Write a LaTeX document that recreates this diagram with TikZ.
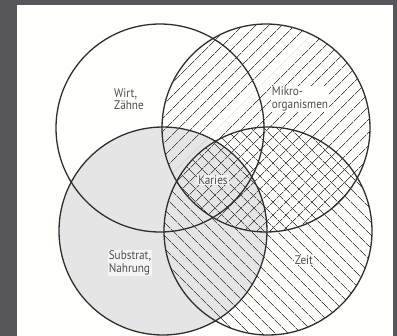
\documentclass[tikz,border=0pt]{standalone}
\usepackage{fontspec}
\setmainfont{PT Sans}[FakeStretch=0.9]
\usetikzlibrary{patterns.meta}
\definecolor{bgdark}{HTML}{57565B}
\definecolor{ink}{HTML}{2E2E2E}
\definecolor{paper}{HTML}{FEFEFB}
\tikzset{
  ring/.style={draw=ink, line width=1.3pt},
  hatch/.style={pattern={Lines[angle=#1,distance=9.5bp,line width=0.75bp]}, pattern color=ink!85},
  lbl/.style={fill=paper, inner sep=1pt, text=ink!85, align=left,
    font=\fontsize{12.5}{12.5}\selectfont},
}
\begin{document}
\begin{tikzpicture}[x=1bp,y=-1bp]
\useasboundingbox (0,0) rectangle (397,336);
\fill[bgdark] (0,0) rectangle (397,336);
\fill[paper] (17,5) rectangle (393,336);
% coordinates
\coordinate (cW) at (160,128);
\coordinate (cM) at (266,128);
\coordinate (cS) at (163,231);
\coordinate (cZ) at (268,231);
% fills
\fill[gray!20] (cS) circle[radius=104];
\fill[hatch=45] (cM) circle[radius=104];
\fill[hatch=-45] (cZ) circle[radius=104];
% outlines
\draw[ring] (cW) circle[radius=104];
\draw[ring] (cM) circle[radius=104];
\draw[ring] (cS) circle[radius=104];
\draw[ring] (cZ) circle[radius=104];
% labels
\node[lbl] (wirt) at (129,99) {Wirt,\\Zähne};
\node[lbl] (mikro) at (300,99) {Mikro-\\organismen};
\node[lbl, fill=gray!10] (karies) at (213,180) {Karies};
\node[lbl, fill=gray!8] (substrat) at (130,263) {Substrat,\\Nahrung};
\node[lbl] (zeit) at (304,260) {Zeit};
\end{tikzpicture}
\end{document}
